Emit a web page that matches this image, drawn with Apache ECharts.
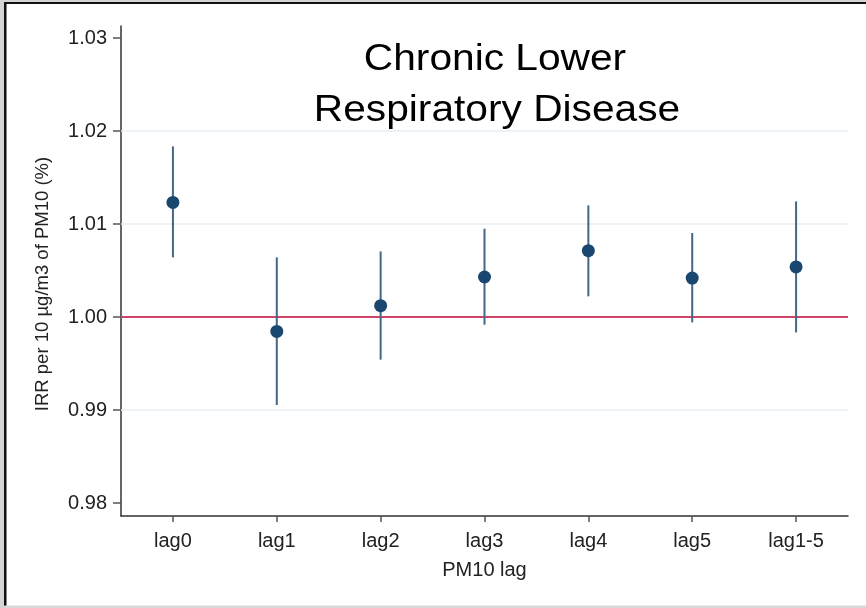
<!DOCTYPE html>
<html><head><meta charset="utf-8">
<script src="https://cdn.jsdelivr.net/npm/echarts@6/dist/echarts.min.js"></script>
<style>html,body{margin:0;padding:0;background:#fff}#c{width:866px;height:608px}</style>
</head><body><div id="c"></div>
<script>
const categories = ['lag0', 'lag1', 'lag2', 'lag3', 'lag4', 'lag5', 'lag1-5'];
const irr = [1.01232, 0.99845, 1.00122, 1.00430, 1.00713, 1.00419, 1.00538];
const lowerCI = [1.00641, 0.99054, 0.99541, 0.99917, 1.00222, 0.99942, 0.99834];
const upperCI = [1.01834, 1.00641, 1.00705, 1.00949, 1.01200, 1.00903, 1.01243];
const yTicks = [0.98, 0.99, 1.00, 1.01, 1.02, 1.03];
const gridValues = [0.99, 1.01, 1.02];
const refValue = 1.00;
const titleLines = ['Chronic Lower', 'Respiratory Disease'];
const yTitle = 'IRR per 10 µg/m3 of PM10 (%)';
const xTitle = 'PM10 lag';

const FONT = '"Liberation Sans", Arial, sans-serif';
const chart = echarts.init(document.getElementById('c'), null, {renderer: 'canvas'});

chart.setOption({
  animation: false,
  backgroundColor: '#fff',
  grid: {left: 121, right: 18, top: 26, bottom: 92, containLabel: false},
  xAxis: {
    type: 'category',
    data: categories,
    boundaryGap: true,
    name: xTitle,
    nameLocation: 'middle',
    nameGap: 44,
    nameTextStyle: {fontFamily: FONT, fontSize: 20, color: '#222'},
    axisLine: {lineStyle: {color: '#333', width: 1.5}},
    axisTick: {show: true, alignWithLabel: true, length: 6, lineStyle: {color: '#555', width: 1.5}},
    axisLabel: {fontFamily: FONT, fontSize: 20, color: '#222', margin: 15},
    splitLine: {show: false}
  },
  yAxis: {
    type: 'value',
    min: 0.978602,
    max: 1.03129,
    axisLine: {show: true, lineStyle: {color: '#333', width: 1.5}},
    axisTick: {show: true, length: 8, lineStyle: {color: '#555', width: 1.5}, customValues: yTicks},
    axisLabel: {fontFamily: FONT, fontSize: 20, color: '#222', margin: 14,
      customValues: yTicks, formatter: v => Number(v).toFixed(2)},
    splitLine: {show: false}
  },
  series: [
    {
      type: 'custom',
      silent: true,
      data: gridValues.map(v => [v]),
      encode: {y: 0},
      renderItem: function (params, api) {
        const cs = params.coordSys;
        const y = api.coord([0, api.value(0)])[1];
        return {type: 'rect', shape: {x: cs.x, y: y - 0.75, width: cs.width, height: 1.5},
          style: {fill: '#e6eef2'}};
      },
      z: 1
    },
    {
      type: 'custom',
      silent: true,
      data: [[refValue]],
      encode: {y: 0},
      renderItem: function (params, api) {
        const cs = params.coordSys;
        const y = api.coord([0, api.value(0)])[1];
        return {type: 'rect', shape: {x: cs.x, y: y - 1, width: cs.width, height: 2},
          style: {fill: '#d1456a'}};
      },
      z: 2
    },
    {
      type: 'custom',
      silent: true,
      data: categories.map((c, i) => [i, lowerCI[i], upperCI[i], irr[i]]),
      encode: {x: 0, y: [1, 2, 3]},
      renderItem: function (params, api) {
        const x = api.value(0);
        const lo = api.coord([x, api.value(1)]);
        const hi = api.coord([x, api.value(2)]);
        const pt = api.coord([x, api.value(3)]);
        return {
          type: 'group',
          children: [
            {type: 'rect', shape: {x: lo[0] - 1, y: hi[1], width: 2, height: lo[1] - hi[1]},
              style: {fill: '#426789'}},
            {type: 'circle', shape: {cx: pt[0], cy: pt[1], r: 6.5},
              style: {fill: '#1a476f'}}
          ]
        };
      },
      z: 3
    }
  ],
  graphic: [
    {type: 'rect', shape: {x: 0, y: 0, width: 866, height: 2}, style: {fill: '#d4d4d4'}, silent: true},
    {type: 'rect', shape: {x: 0, y: 0, width: 4, height: 608}, style: {fill: '#d4d4d4'}, silent: true},
    {type: 'rect', shape: {x: 4, y: 2, width: 862, height: 2}, style: {fill: '#111'}, silent: true},
    {type: 'rect', shape: {x: 4, y: 2, width: 2.5, height: 606}, style: {fill: '#111'}, silent: true},
    {type: 'rect', shape: {x: 4, y: 605.5, width: 862, height: 2.5}, style: {fill: '#d8d8d8'}, silent: true},
    {
      type: 'text', x: 43, y: 284, rotation: Math.PI / 2, silent: true,
      style: {text: yTitle, fontFamily: FONT, fontSize: 18.5, fill: '#222', align: 'center', verticalAlign: 'middle'}
    },
    {
      type: 'text', x: 495, y: 60, scaleX: 1.13, silent: true,
      style: {text: titleLines[0], fontFamily: FONT, fontSize: 36, fill: '#000', align: 'center', verticalAlign: 'middle'}
    },
    {
      type: 'text', x: 497, y: 111, scaleX: 1.13, silent: true,
      style: {text: titleLines[1], fontFamily: FONT, fontSize: 36, fill: '#000', align: 'center', verticalAlign: 'middle'}
    }
  ]
});
</script>
</body></html>
